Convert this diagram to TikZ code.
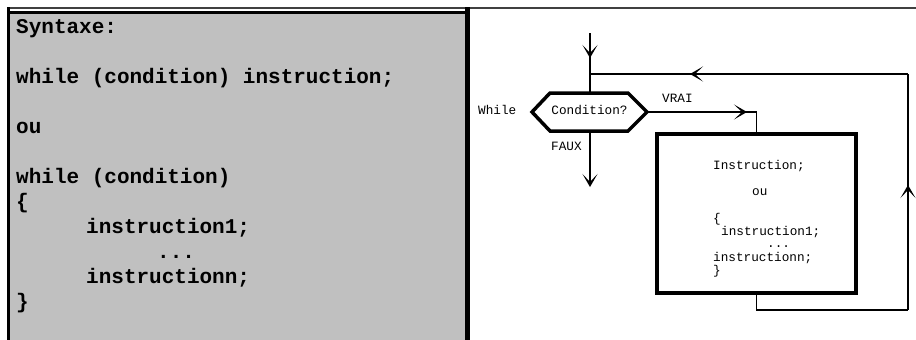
\documentclass[tikz,border=0pt]{standalone}
\usepackage{fontspec}
\newfontfamily\cour{Liberation Mono}
\usetikzlibrary{arrows.meta,decorations.markings}

\definecolor{panelgray}{RGB}{192,192,192}

\tikzset{
  code/.style={anchor=base west, inner sep=0pt, font=\cour\bfseries\fontsize{21}{25}\selectfont},
  flow/.style={anchor=base west, inner sep=0pt, font=\cour\fontsize{12.7}{15}\selectfont},
  flowc/.style={anchor=base, inner sep=0pt, font=\cour\fontsize{12.7}{15}\selectfont},
  conn/.style={line width=1.2pt, black},
  barb/.tip={Stealth[length=13pt,width=15pt,inset=8pt]},
  tipat/.style={postaction={decorate},
    decoration={markings, mark=at position #1 with {\arrow{barb}}}},
  bodybox/.style={draw, line width=3.2pt, minimum width=199pt, minimum height=159pt, inner sep=0pt},
}

\begin{document}
\begin{tikzpicture}[x=1pt,y=-1pt]
\useasboundingbox (0,0) rectangle (916,340);
\fill[white] (0,0) rectangle (916,340);

% left panel: grey code box
\fill[panelgray] (8,11) rectangle (467,340);
\draw[line width=2pt, black!75] (7,7.5) -- (916,7.5);
\draw[line width=3pt] (8.5,7) -- (8.5,340);
\draw[line width=3pt] (8,12) -- (466,12);
\draw[line width=4.5pt] (467.5,7) -- (467.5,340);

% syntax listing
\node[code] (l0) at (16,33) {Syntaxe:};
\node[code] (l1) at (16,83) {while (condition) instruction;};
\node[code] (l2) at (16,133) {ou};
\node[code] (l3) at (16,183) {while (condition)};
\node[code] (l4) at (16,208) {\{};
\node[code] (l5) at (86,233) {instruction1;};
\node[code] (l6) at (157,258) {...};
\node[code] (l7) at (86,283) {instructionn;};
\node[code] (l8) at (16,308) {\}};

% flowchart: decision hexagon
\coordinate (hexL) at (532,112);
\coordinate (hexR) at (647,112);
\coordinate (hexT) at (590,93);
\coordinate (hexB) at (590,131);
\draw[line width=3.5pt, line join=miter] (hexL) -- (550,93) -- (628,93) -- (hexR) -- (628,131) -- (550,131) -- cycle;
\node[flowc] (cond) at (589.5,114) {Condition?};
\node[flow] (while) at (478,114) {While};
\node[flow] (faux) at (551,150) {FAUX};
\node[flow] (vrai) at (662,102) {VRAI};

% loop body
\node[bodybox] (body) at (756.5,213.5) {};
\node[flow] (b1) at (713,169) {Instruction;};
\node[flow] (b2) at (752,195) {ou};
\node[flow] (b3) at (713,222) {\{};
\node[flow] (b4) at (721,235) {instruction1;};
\node[flow] (b5) at (767,247) {...};
\node[flow] (b6) at (713,261) {instructionn;};
\node[flow] (b7) at (713,274) {\}};

% connectors
\coordinate (entry) at (590,33);
\coordinate (join) at (590,74);
\coordinate (exit) at (590,187);
\coordinate (rb) at (908,310);
\coordinate (rt) at (908,74);

\draw[conn, tipat=25pt] (entry) -- (hexT);
\draw[conn, -{barb}] (hexB) -- (exit);
\draw[conn, tipat=100pt] (hexR) -| (body.north);
\draw[conn] (body.south) |- (rb);
\draw[conn, tipat=125pt] (rb) -- (rt);
\draw[conn, tipat=218pt] (rt) -- (join);
\end{tikzpicture}
\end{document}
